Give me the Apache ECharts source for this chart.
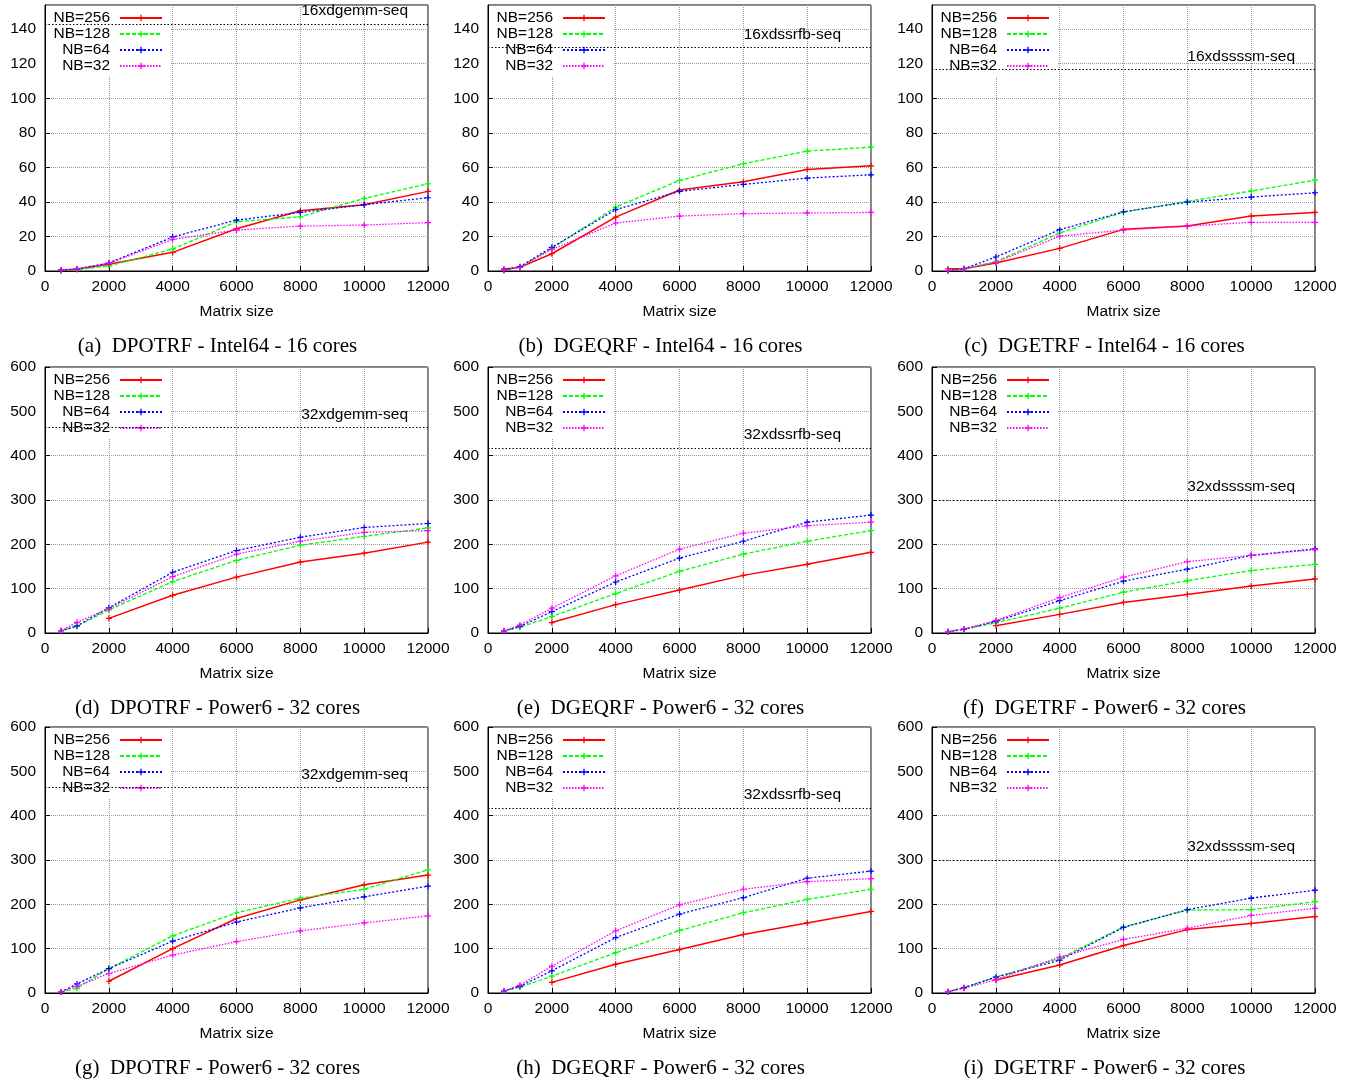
<!DOCTYPE html>
<html>
<head>
<meta charset="utf-8">
<script src="https://cdn.jsdelivr.net/npm/echarts@6/dist/echarts.min.js"></script>
<style>
  html, body { margin: 0; padding: 0; background: #fff; }
  #chart { width: 1357px; height: 1081px; }
</style>
</head>
<body>
<div id="chart"></div>
<script>
// matrix sizes (x) and block sizes
var matrixSizes = [500, 1000, 2000, 4000, 6000, 8000, 10000, 12000];
var nbNames = ['NB=256', 'NB=128', 'NB=64', 'NB=32'];

// Gflop/s, one row per NB (256, 128, 64, 32)
var dpotrfIntel = [
  [0.5, 1, 3.9, 10.8, 24.5, 34.9, 38.4, 46.1],
  [0.3, 0.8, 2.9, 12.7, 28.5, 31.4, 42, 50.5],
  [0.5, 1.2, 4.6, 19.7, 29.5, 33.9, 38.4, 42.4],
  [0.5, 1.3, 4.4, 18.3, 23.7, 26, 26.6, 28]
];
var dgeqrfIntel = [
  [1.2, 2.1, 10, 31.2, 46.9, 51.7, 58.8, 60.9],
  [0.5, 2.3, 13.1, 37, 52.4, 62.1, 69.4, 71.7],
  [0.5, 2.5, 13.7, 35.5, 46.1, 50.1, 53.8, 55.7],
  [0.5, 2.1, 12.5, 27.8, 31.8, 33.2, 33.6, 33.9]
];
var dgetrfIntel = [
  [1.3, 1.3, 4.6, 13.1, 24.1, 26, 31.8, 33.9],
  [0.3, 1.3, 5.4, 22, 34.1, 40.3, 46.3, 52.6],
  [0.3, 1.3, 8.1, 23.9, 34.3, 39.9, 42.8, 45.3],
  [0.2, 1.2, 5, 20.2, 23.7, 26, 28.2, 28.2]
];
var dpotrfPower6a = [
  [null, null, 33, 85, 126, 160, 180, 205],
  [4.5, 15, 52, 116, 164, 198, 218, 237],
  [5.3, 16, 57, 137, 186, 216, 238, 247],
  [5.3, 24, 55, 127, 178, 207, 227, 231]
];
var dgeqrfPower6a = [
  [null, null, 23.5, 64, 97, 130, 155, 182],
  [4.5, 13, 37, 89, 139, 178, 207, 231],
  [4.5, 15, 48, 115, 169, 207, 250, 266],
  [5.3, 18, 56, 129, 189, 225, 242, 250]
];
var dgetrfPower6a = [
  [null, null, 16.6, 42, 69, 87, 106, 122],
  [3, 8.3, 23, 56, 92, 118, 141, 155],
  [3, 8.3, 26, 73, 117, 144, 175, 190],
  [3, 9, 28, 80, 126, 161, 175, 188]
];
var dpotrfPower6b = [
  [null, null, 26.5, 100, 168, 210, 244, 266],
  [2.3, 10.6, 55, 129, 181, 214, 234, 278],
  [2.3, 20.4, 55, 117, 160, 192, 217, 241],
  [2.3, 15, 44, 85.5, 116, 140, 158, 174]
];
var dgeqrfPower6b = [
  [null, null, 24, 65, 98, 132, 158, 184],
  [4.5, 13, 38, 91, 141, 181, 211, 234],
  [4.5, 15, 50, 125, 178, 215, 259, 275],
  [4.5, 17.4, 60.5, 140, 199, 234, 251, 258]
];
var dgetrfPower6b = [
  [null, null, 29.5, 63, 107, 143, 157, 172.5],
  [3, 12, 36, 78, 149, 187, 188, 206],
  [3, 12, 35.6, 74, 148, 188, 214, 232],
  [3, 10.6, 30, 81, 121, 146, 175, 191]
];

// sequential kernel peaks (dotted line) and their labels
var seqNames = ['16xdgemm-seq', '16xdssrfb-seq', '16xdssssm-seq',
                '32xdgemm-seq', '32xdssrfb-seq', '32xdssssm-seq',
                '32xdgemm-seq', '32xdssrfb-seq', '32xdssssm-seq'];
var seqPeaks = [142.9, 129.4, 116.7, 464, 417, 300, 464, 417, 300];

var captions = [
  '(a)  DPOTRF - Intel64 - 16 cores', '(b)  DGEQRF - Intel64 - 16 cores', '(c)  DGETRF - Intel64 - 16 cores',
  '(d)  DPOTRF - Power6 - 32 cores', '(e)  DGEQRF - Power6 - 32 cores', '(f)  DGETRF - Power6 - 32 cores',
  '(g)  DPOTRF - Power6 - 32 cores', '(h)  DGEQRF - Power6 - 32 cores', '(i)  DGETRF - Power6 - 32 cores'
];
var yMaxIntel = 154, yStepIntel = 20;
var yMaxPower = 600, yStepPower = 100;

var panels = [dpotrfIntel, dgeqrfIntel, dgetrfIntel,
              dpotrfPower6a, dgeqrfPower6a, dgetrfPower6a,
              dpotrfPower6b, dgeqrfPower6b, dgetrfPower6b];

var colLeft = [45, 488, 932];
var rowTop = [5, 367, 727];
var plotW = 383, plotH = 266;
var sans = 'Liberation Sans';
var colors = ['#ff0000', '#00ff00', '#0000ff', '#ff00ff'];
var dashes = ['solid', [4, 2], [2, 2], [1.5, 1.5]];
var plus = 'path://M0,4h10v2h-10zM4,0h2v10h-2z';

var chart = echarts.init(document.getElementById('chart'));

var grid = [], xAxis = [], yAxis = [], series = [], legend = [], graphics = [];

panels.forEach(function (rows, p) {
  var col = p % 3, row = Math.floor(p / 3);
  var left = colLeft[col], top = rowTop[row];
  var intel = row === 0;

  grid.push({
    left: left, top: top, width: plotW, height: plotH,
    show: true, borderColor: '#000', borderWidth: 1, backgroundColor: 'transparent'
  });

  xAxis.push({
    type: 'value', gridIndex: p, min: 0, max: 12000, interval: 2000,
    name: 'Matrix size', nameLocation: 'middle', nameGap: 33,
    nameTextStyle: { fontFamily: sans, fontSize: 15.5, color: '#000' },
    axisLine: { show: true, lineStyle: { color: '#000' } },
    axisTick: { show: true, inside: true, length: 5, lineStyle: { color: '#000' } },
    axisLabel: {
      fontFamily: sans, fontSize: 15.5, color: '#000', margin: 8,
      formatter: function (v) { return String(v); }
    },
    splitLine: { show: true, lineStyle: { color: '#999', type: 'dotted', width: 1 } }
  });

  yAxis.push({
    type: 'value', gridIndex: p, min: 0,
    max: intel ? yMaxIntel : yMaxPower,
    interval: intel ? yStepIntel : yStepPower,
    axisLine: { show: true, lineStyle: { color: '#000' } },
    axisTick: { show: true, inside: true, length: 5, lineStyle: { color: '#000' } },
    axisLabel: { fontFamily: sans, fontSize: 15.5, color: '#000', margin: 9, showMaxLabel: !intel },
    splitLine: { show: true, lineStyle: { color: '#999', type: 'dotted', width: 1 } }
  });

  rows.forEach(function (vals, k) {
    var pts = [];
    vals.forEach(function (v, i) {
      if (v !== null) pts.push([matrixSizes[i], v]);
    });
    series.push({
      name: nbNames[k], type: 'line', xAxisIndex: p, yAxisIndex: p,
      data: pts, symbol: plus, symbolSize: 6, showSymbol: true,
      itemStyle: { color: colors[k] },
      lineStyle: { color: colors[k], width: k === 0 ? 1.5 : 1.3, type: dashes[k] },
      emphasis: { disabled: true }
    });
  });

  // sequential peak, dotted black with label on the right
  series.push({
    name: '', type: 'line', xAxisIndex: p, yAxisIndex: p, data: [],
    markLine: {
      silent: true, symbol: 'none', animation: false,
      lineStyle: { color: '#000', type: [1.5, 2], width: 1 },
      label: {
        position: 'insideEndTop', formatter: seqNames[p],
        fontFamily: sans, fontSize: 15.5, color: '#000',
        padding: [0, col === 1 ? 25 : 15, 0, 0]
      },
      data: [{ yAxis: seqPeaks[p] }]
    }
  });

  legend.push({
    data: nbNames, orient: 'vertical', align: 'right', selectedMode: false,
    left: left + 1, top: top + 2, padding: [3, 8, 3, 3],
    backgroundColor: '#fff', itemGap: 0, itemWidth: 42, itemHeight: 8,
    formatter: function (name) { return '{t|' + name + '}'; },
    textStyle: {
      fontFamily: sans, fontSize: 15.5, color: '#000',
      rich: { t: { width: 61, align: 'right', lineHeight: 16, padding: [0, 5, 0, 0], fontFamily: sans, fontSize: 15.5 } }
    }
  });

  graphics.push({
    type: 'text',
    x: left + plotW / 2 - 19, y: top + plotH + 75,
    style: {
      text: captions[p], fill: '#000',
      font: '21px "Liberation Serif"',
      textAlign: 'center', textVerticalAlign: 'middle'
    }
  });
});

chart.setOption({
  animation: false,
  grid: grid,
  xAxis: xAxis,
  yAxis: yAxis,
  legend: legend,
  series: series,
  graphic: graphics
});
</script>
</body>
</html>
